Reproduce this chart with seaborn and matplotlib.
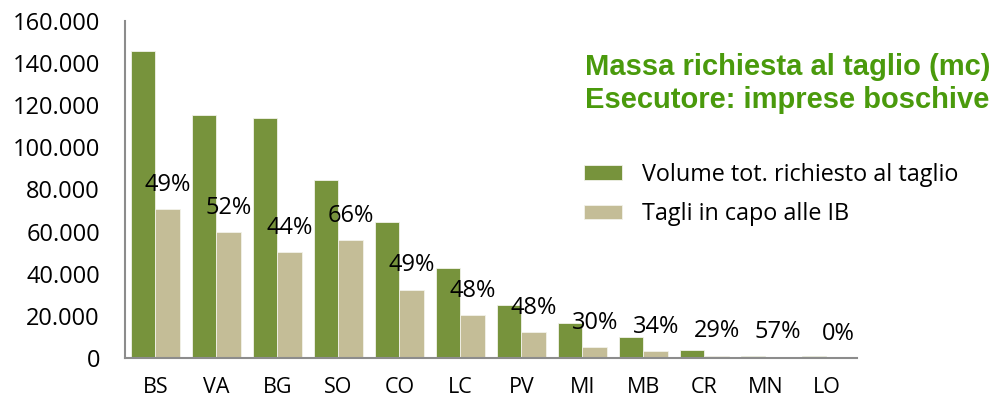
import numpy as np
import pandas as pd
import matplotlib.pyplot as plt
import seaborn as sns
from matplotlib.ticker import FuncFormatter

# dati (mc)
province = ['BS', 'VA', 'BG', 'SO', 'CO', 'LC', 'PV', 'MI', 'MB', 'CR', 'MN', 'LO']
volume_tot = [145800, 115200, 114100, 84500, 64400, 42700, 25200, 16600, 10100, 3800, 1100, 800]
tagli_ib = [70700, 59700, 50200, 55900, 32300, 20400, 12300, 5200, 3300, 1100, 600, 0]
percentuali = [49, 52, 44, 66, 49, 48, 48, 30, 34, 29, 57, 0]
serie = ['Volume tot. richiesto al taglio', 'Tagli in capo alle IB']

verde = '#77933C'
beige = '#C4BD97'
verde_titolo = '#4A9A0C'
grigio = '#8C8C8C'

sns.set_style('white')
plt.rcParams['font.family'] = ['Open Sans', 'DejaVu Sans']

df = pd.DataFrame({
    'prov': province * 2,
    'valore': volume_tot + tagli_ib,
    'serie': [serie[0]] * len(province) + [serie[1]] * len(province),
})

fig = plt.figure(figsize=(9.95, 4.03), dpi=100)
ax = fig.add_axes([125 / 995, 45 / 403, 732 / 995, 337 / 403])

sns.barplot(data=df, x='prov', y='valore', hue='serie', palette=[verde, beige],
            saturation=1, width=0.8, edgecolor='#F2F2EA', linewidth=0.6, ax=ax)

# percentuali sopra le barre beige
for i, p in enumerate(percentuali):
    ax.annotate(f'{p}%', (i + 0.2, tagli_ib[i]), xytext=(0, 9), textcoords='offset points',
                ha='center', va='bottom', fontsize=17, color='black')

ax.set_ylim(0, 160000)
ax.set_xlim(-0.5, len(province) - 0.5)
ax.set_yticks(np.arange(0, 160001, 20000))
ax.yaxis.set_major_formatter(FuncFormatter(lambda v, pos: f'{int(v):,}'.replace(',', '.')))
ax.set_xlabel('')
ax.set_ylabel('')

for s in ['top', 'right']:
    ax.spines[s].set_visible(False)
for s in ['left', 'bottom']:
    ax.spines[s].set_color(grigio)
    ax.spines[s].set_linewidth(1.5)

ax.tick_params(axis='y', direction='out', length=6, width=1.5, color=grigio, pad=12,
               labelsize=17, labelcolor='black')
ax.tick_params(axis='x', which='major', length=0, pad=14, labelsize=15.5, labelcolor='black')
ax.set_xticks(np.arange(-0.5, len(province), 1), minor=True)
ax.tick_params(axis='x', which='minor', direction='out', length=6, width=1.5, color=grigio)

handles, labels = ax.get_legend_handles_labels()
leg = ax.legend(handles, labels, loc='upper left', bbox_to_anchor=(584 / 995, 1 - 163 / 403),
                bbox_transform=fig.transFigure, frameon=False, fontsize=16.8,
                handlelength=1.65, handleheight=0.6, handletextpad=0.85, labelspacing=0.65,
                borderpad=0, borderaxespad=0)
for t in leg.get_texts():
    t.set_color('black')

fig.text(585 / 995, 1 - 67 / 403, 'Massa richiesta al taglio (mc)', family='Liberation Sans',
         fontsize=21, fontweight='bold', color=verde_titolo, ha='left', va='center')
fig.text(585 / 995, 1 - 100 / 403, 'Esecutore: imprese boschive', family='Liberation Sans',
         fontsize=21, fontweight='bold', color=verde_titolo, ha='left', va='center')

fig.savefig('out.png', dpi=100)
